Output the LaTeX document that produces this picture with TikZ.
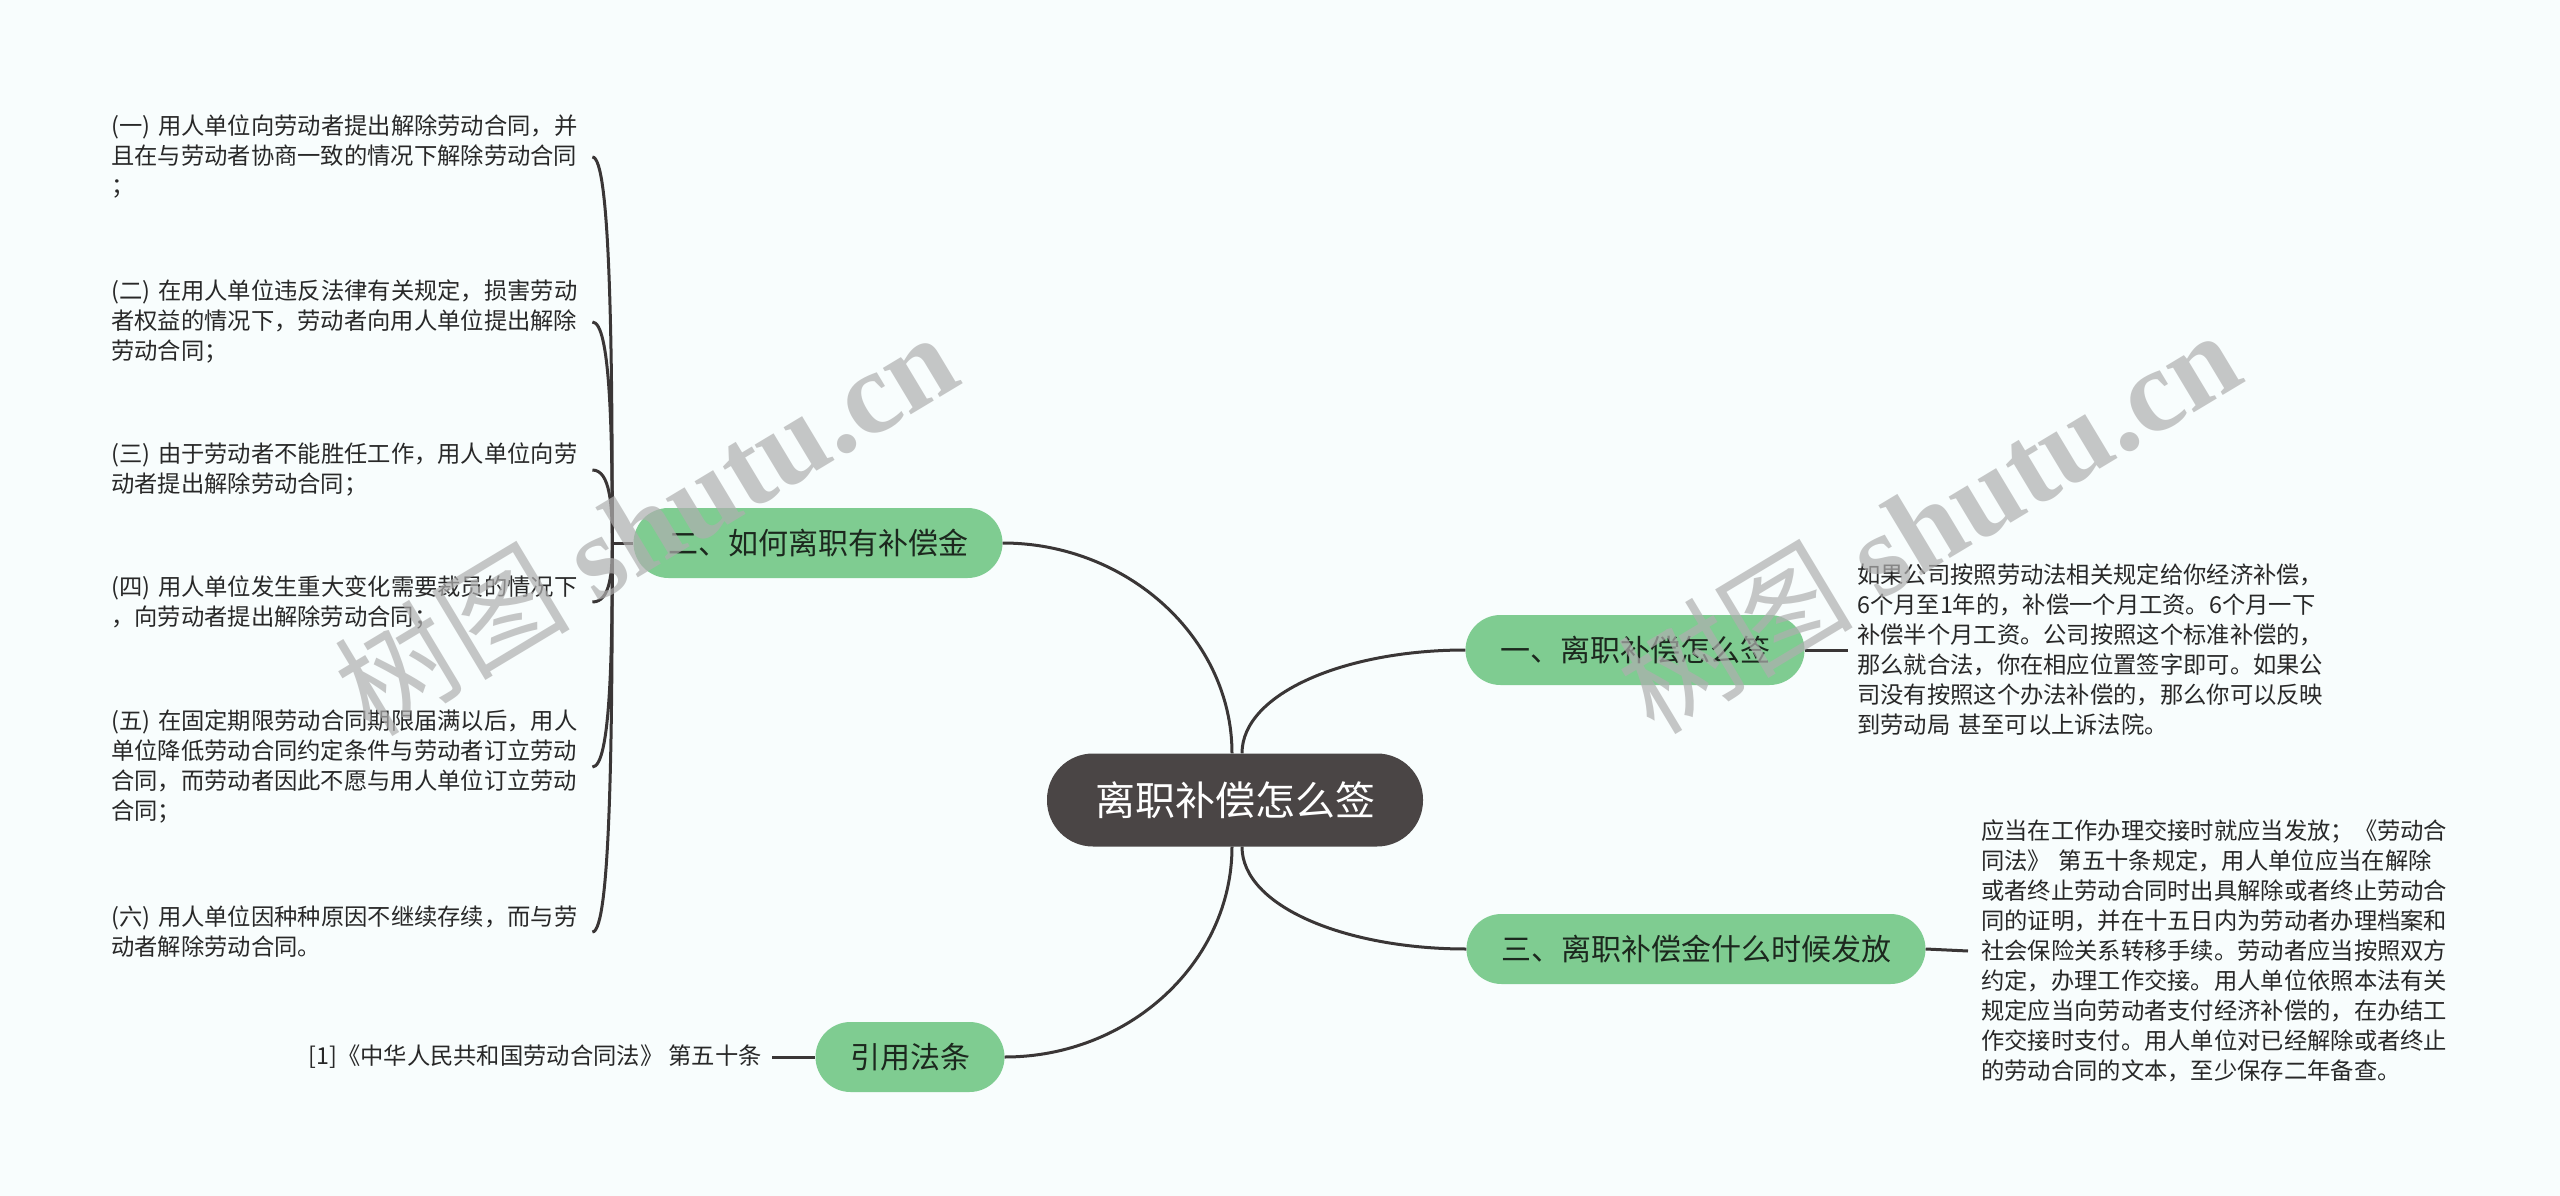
\documentclass[tikz,border=0pt]{standalone}
\usepackage{fontspec}
\setmainfont{Noto Sans CJK SC}
\newfontfamily\wmserif{Liberation Serif}
\usetikzlibrary{calc}
\definecolor{mmbg}{RGB}{248,253,253}
\definecolor{mmgreen}{RGB}{127,204,145}
\definecolor{mmdark}{RGB}{74,69,69}
\definecolor{mmline}{RGB}{58,54,54}
\definecolor{mmtext}{RGB}{40,40,40}
\definecolor{mmtopic}{RGB}{28,40,30}
\definecolor{mmwm}{RGB}{175,175,175}
\begin{document}
\begin{tikzpicture}[x=1pt,y=-1pt,
  rootbox/.style={rectangle, rounded corners=46pt, fill=mmdark, text=white,
    font=\fontsize{40}{48}\selectfont, minimum height=93pt, inner xsep=48pt, inner ysep=0pt},
  topic/.style={rectangle, rounded corners=35pt, fill=mmgreen, text=mmtopic,
    font=\fontsize{30}{36}\selectfont, minimum height=70pt, inner xsep=34.5pt, inner ysep=0pt},
  leaf/.style={text=mmtext, font=\fontsize{23.3}{30}\selectfont, align=left, inner ysep=0pt},
  lleaf/.style={leaf, anchor=west, text width=470pt, inner xsep=11pt},
  conn/.style={draw=mmline, line width=3pt},
  wm/.style={text=mmwm, text opacity=0.7, rotate=31, font=\fontsize{118}{130}\selectfont, inner sep=0pt}
]
\fill[mmbg] (0,0) rectangle (2560,1196);
\useasboundingbox (0,0) rectangle (2560,1196);

% main nodes
\node[rootbox] (root) at (1235,800) {离职补偿怎么签};
\node[topic] (t2) at (818,543) {二、如何离职有补偿金};
\node[topic] (t1) at (1635,650) {一、离职补偿怎么签};
\node[topic] (t3) at (1696,949) {三、离职补偿金什么时候发放};
\node[topic] (t4) at (910,1057) {引用法条};

% root connectors
\draw[conn] ($(root.north)+(-3,0)$) .. controls +(0,-115) and +(125,0) .. (t2.east);
\draw[conn] ($(root.south)+(-3,0)$) .. controls +(0,115) and +(125,0) .. (t4.east);
\draw[conn] ($(root.north)+(7,0)$) .. controls +(0,-60) and +(-120,0) .. (t1.west);
\draw[conn] ($(root.south)+(7,0)$) .. controls +(0,60) and +(-120,0) .. (t3.west);

% left leaves
\node[lleaf] (l1) at (100,157) {(一) 用人单位向劳动者提出解除劳动合同，并\\且在与劳动者协商一致的情况下解除劳动合同\\；};
\node[lleaf] (l2) at (100,322) {(二) 在用人单位违反法律有关规定，损害劳动\\者权益的情况下，劳动者向用人单位提出解除\\劳动合同；};
\node[lleaf] (l3) at (100,470) {(三) 由于劳动者不能胜任工作，用人单位向劳\\动者提出解除劳动合同；};
\node[lleaf] (l4) at (100,602) {(四) 用人单位发生重大变化需要裁员的情况下\\，向劳动者提出解除劳动合同；};
\node[lleaf] (l5) at (100,767) {(五) 在固定期限劳动合同期限届满以后，用人\\单位降低劳动合同约定条件与劳动者订立劳动\\合同，而劳动者因此不愿与用人单位订立劳动\\合同；};
\node[lleaf] (l6) at (100,932) {(六) 用人单位因种种原因不继续存续，而与劳\\动者解除劳动合同。};

\coordinate (jn) at ($(t2.west)+(-21,0)$);
\draw[conn] (t2.west) -- (jn);
\foreach \l in {l1,l2,l3,l4,l5,l6}{
  \draw[conn] (\l.east) .. controls +(18,0) and ($(jn)!0.5!(jn |- \l.east)$) .. (jn);
}

% right details
\node[leaf, anchor=west, text width=466pt, inner xsep=9pt] (d1) at (1848,650) {如果公司按照劳动法相关规定给你经济补偿，\\6个月至1年的，补偿一个月工资。6个月一下\\补偿半个月工资。公司按照这个标准补偿的，\\那么就合法，你在相应位置签字即可。如果公\\司没有按照这个办法补偿的，那么你可以反映\\到劳动局 甚至可以上诉法院。};
\draw[conn] (t1.east) -- (d1.west);

\node[leaf, anchor=west, text width=470pt, inner xsep=13pt] (d3) at (1968,951) {应当在工作办理交接时就应当发放；《劳动合\\同法》 第五十条规定，用人单位应当在解除\\或者终止劳动合同时出具解除或者终止劳动合\\同的证明，并在十五日内为劳动者办理档案和\\社会保险关系转移手续。劳动者应当按照双方\\约定，办理工作交接。用人单位依照本法有关\\规定应当向劳动者支付经济补偿的，在办结工\\作交接时支付。用人单位对已经解除或者终止\\的劳动合同的文本，至少保存二年备查。};
\draw[conn] (t3.east) -- (d3.west);

\node[leaf, anchor=east, inner xsep=10pt] (d4) at (772,1057) {[1]《中华人民共和国劳动合同法》 第五十条};
\draw[conn] (d4.east) -- (t4.west);

% watermarks
\node[wm] (w1) at (645,522) {树图 {\wmserif\bfseries shutu.cn}};
\node[wm] (w2) at (1928,520) {树图 {\wmserif\bfseries shutu.cn}};
\end{tikzpicture}
\end{document}
